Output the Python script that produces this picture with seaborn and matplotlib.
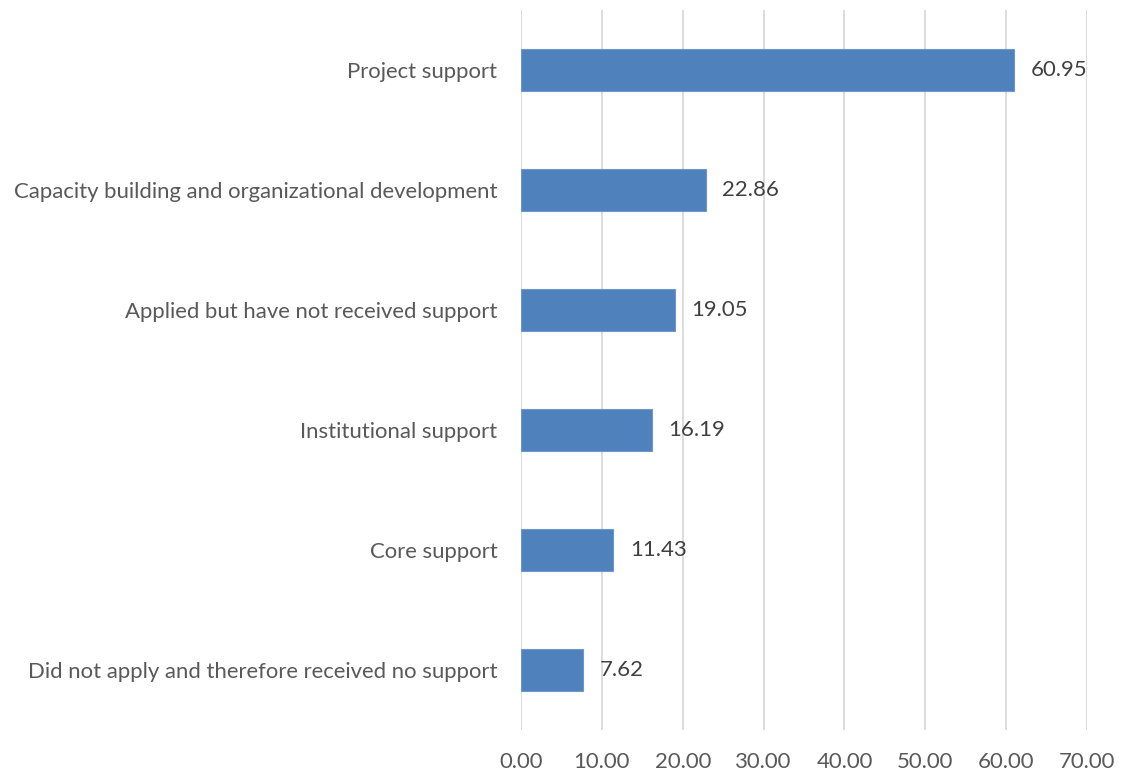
import matplotlib
matplotlib.use("Agg")
import matplotlib.pyplot as plt
import seaborn as sns
import pandas as pd

categories = [
    "Project support",
    "Capacity building and organizational development",
    "Applied but have not received support",
    "Institutional support",
    "Core support",
    "Did not apply and therefore received no support",
]
values = [60.95, 22.86, 19.05, 16.19, 11.43, 7.62]
x_ticks = [0, 10, 20, 30, 40, 50, 60, 70]

sns.set_theme(style="white")
plt.rcParams["font.family"] = ["Lato", "DejaVu Sans"]

df = pd.DataFrame({"category": categories, "value": values})

fig = plt.figure(figsize=(11.25, 7.73), dpi=100)
ax = fig.add_axes([0.4631, 0.0556, 0.5031, 0.9315])

sns.barplot(data=df, y="category", x="value", orient="h", width=0.35,
            color="#4f81bd", saturation=1, edgecolor="#6e97c9",
            linewidth=0.8, ax=ax, zorder=3)

ax.set_xlim(0, 70)
ax.set_ylim(5.5, -0.5)
ax.set_xticks(x_ticks)
ax.set_xticklabels([f"{t:.2f}" for t in x_ticks])
ax.xaxis.grid(True, color="#d9d9d9", linewidth=1.3, zorder=0)
ax.yaxis.grid(False)
for s in ax.spines.values():
    s.set_visible(False)
ax.set_xlabel("")
ax.set_ylabel("")
ax.tick_params(axis="x", length=0, pad=16, labelsize=15.9, colors="#595959")
ax.tick_params(axis="y", length=0, pad=17, labelsize=15.9, colors="#595959")

labels = ax.bar_label(ax.containers[0], labels=[f"{v:.2f}" for v in values],
                      padding=12, fontsize=15.9, color="#404040")
for t in labels:
    t.set_verticalalignment("center")
    t.set_y(t.get_position()[1])

fig.savefig("out.png", dpi=100)
